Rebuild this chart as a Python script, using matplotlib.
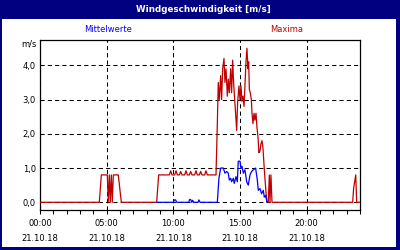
import matplotlib.pyplot as plt
from matplotlib.patches import Rectangle
from matplotlib.ticker import FixedLocator, FuncFormatter

# Maxima (rot), Zeit in Stunden
max_t = [0.0, 4.45, 4.6, 5.05, 5.12, 5.2, 5.27, 5.35, 5.42, 5.5, 5.87, 6.1,
         8.75, 8.9, 9.7, 9.8, 9.9, 10.1, 10.2, 10.3, 10.45, 10.55, 10.65,
         10.85, 10.95, 11.05, 11.2, 11.3, 11.4, 11.6, 11.7, 11.8, 11.95,
         12.05, 12.15, 12.35, 12.45, 12.55, 13.2,
         13.3, 13.37, 13.45, 13.55, 13.62, 13.7, 13.8, 13.87, 13.95, 14.05,
         14.12, 14.2, 14.3, 14.37, 14.45, 14.52, 14.6, 14.67, 14.75, 14.82,
         14.92, 15.0, 15.07, 15.15, 15.22, 15.3, 15.37, 15.45, 15.52, 15.6,
         15.65, 15.7, 15.77, 15.85, 15.9, 15.97, 16.05, 16.12, 16.2, 16.27,
         16.35, 16.42, 16.5, 16.57, 16.65, 16.72, 16.8, 16.87, 16.95, 17.02,
         17.12, 17.2, 17.25, 17.32, 17.4,
         23.45, 23.52, 23.6, 23.68, 23.75, 23.85, 24.0]
max_v = [0.0, 0.0, 0.8, 0.8, 0.0, 0.8, 0.0, 0.8, 0.0, 0.8, 0.8, 0.0,
         0.0, 0.8, 0.8, 0.92, 0.8, 0.8, 0.92, 0.8, 0.8, 0.9, 0.8,
         0.8, 0.92, 0.8, 0.8, 0.9, 0.8, 0.8, 0.92, 0.8, 0.8,
         0.9, 0.8, 0.8, 0.92, 0.8, 0.8,
         2.3, 3.5, 3.0, 3.7, 3.0, 3.9, 4.2, 3.5, 3.9, 3.1,
         3.6, 3.2, 3.9, 3.2, 4.15, 3.5, 3.0, 2.6, 2.1, 2.9,
         3.4, 3.0, 3.4, 2.95, 3.1, 2.8, 3.4, 4.1, 4.5, 3.9,
         4.1, 3.3, 3.2, 3.0, 2.6, 2.3, 2.6, 2.4, 2.6, 2.2,
         1.9, 1.45, 1.5, 1.7, 1.8, 1.6, 1.1, 0.7, 0.3, 0.0,
         0.0, 0.8, 0.0, 0.8, 0.0,
         0.0, 0.4, 0.6, 0.8, 0.0, 0.0, 0.0]

# Mittelwerte (blau)
mit_t = [8.75, 10.0, 10.08, 10.17, 10.25, 11.15, 11.22, 11.3, 11.38, 11.45,
         11.52, 11.85, 11.92, 12.0, 13.3, 13.35, 13.42, 13.55, 13.75, 13.87,
         14.0, 14.12, 14.2, 14.3, 14.37, 14.5, 14.57, 14.7, 14.8, 14.87,
         15.0, 15.07, 15.15, 15.25, 15.37, 15.5, 15.62, 15.75, 15.87, 16.0,
         16.17, 16.3, 16.37, 16.5, 16.62, 16.75, 16.82, 16.92, 17.0, 17.05]
mit_v = [0.0, 0.0, 0.07, 0.07, 0.0, 0.0, 0.08, 0.08, 0.0, 0.06,
         0.0, 0.0, 0.07, 0.0, 0.0, 0.3, 0.7, 1.0, 1.0, 0.85,
         0.9, 0.85, 0.65, 0.7, 0.6, 0.7, 0.55, 0.75, 0.6, 1.2,
         1.2, 1.0, 1.05, 0.85, 0.95, 0.6, 0.5, 0.8, 0.9, 0.95,
         1.0, 0.65, 0.35, 0.4, 0.25, 0.35, 0.15, 0.2, 0.05, 0.0]

x_ticks = [0, 5, 10, 15, 20]
x_labels = ['00:00\n21.10.18', '05:00\n21.10.18', '10:00\n21.10.18',
            '15:00\n21.10.18', '20:00\n21.10.18']
y_ticks = [0, 1, 2, 3, 4]

navy = '#000080'
red = '#c00000'
blue = '#0000ff'

fig = plt.figure(figsize=(4, 2.5), dpi=100)
fig.patch.set_facecolor(navy)
fig.add_artist(Rectangle((2 / 400, 3 / 250), 394 / 400, 228 / 250,
                         transform=fig.transFigure, facecolor='white',
                         edgecolor='none', zorder=0))

ax = fig.add_axes([0.1, 0.16, 0.8, 0.68])
ax.set_facecolor('white')

ax.plot(max_t, max_v, color=red, lw=0.9, zorder=3)
ax.plot(mit_t, mit_v, color=blue, lw=0.9, zorder=4)

ax.set_xlim(0, 24)
ax.set_ylim(-0.225, 4.74)

ax.xaxis.set_major_locator(FixedLocator(x_ticks))
ax.set_xticklabels(x_labels)
ax.xaxis.set_minor_locator(FixedLocator(range(25)))
ax.yaxis.set_major_locator(FixedLocator(y_ticks))
ax.yaxis.set_major_formatter(FuncFormatter(lambda v, p: f'{v:.1f}'.replace('.', ',')))

ax.grid(True, which='major', color='black', lw=0.75, linestyle=(0, (4, 3)))
ax.tick_params(axis='x', which='both', direction='out', length=3, width=0.75,
               labelsize=6, pad=3.5)
ax.tick_params(axis='y', length=0, labelsize=6, pad=3)
for lab in ax.get_xticklabels():
    lab.set_linespacing(1.85)
for s in ax.spines.values():
    s.set_linewidth(0.9)

fig.text(203 / 400, 1 - 9.5 / 250, 'Windgeschwindigkeit [m/s]', color='white',
         fontweight='bold', fontsize=6.3, ha='center', va='center')
fig.text(108 / 400, 1 - 30 / 250, 'Mittelwerte', color=blue, fontsize=6,
         ha='center', va='center')
fig.text(287 / 400, 1 - 30 / 250, 'Maxima', color=red, fontsize=6,
         ha='center', va='center')
fig.text(37 / 400, 1 - 44.5 / 250, 'm/s', fontsize=6, ha='right', va='center')

fig.savefig('out.png', dpi=100, facecolor=fig.get_facecolor())
